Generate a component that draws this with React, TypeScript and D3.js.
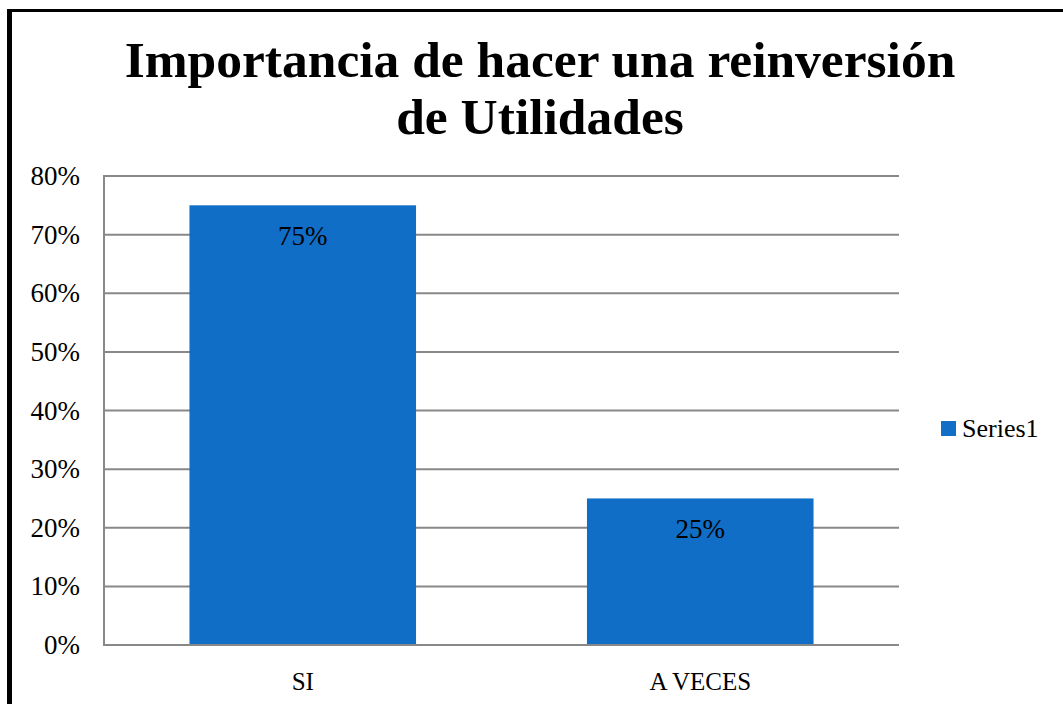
import React from 'react';
import * as d3 from "d3";

// data
const categories = ["SI", "A VECES"];
const values = [0.75, 0.25];
const yTicks = [0, 0.1, 0.2, 0.3, 0.4, 0.5, 0.6, 0.7, 0.8];
const seriesName = "Series1";
const titleLines = ["Importancia de hacer una reinversión", "de Utilidades"];

// constants
const width = 1063;
const height = 704;
const plot = { left: 104, right: 899, top: 176, bottom: 645 };
const barColor = "#106ec6";
const gridColor = "#888888";
const font = "'Liberation Serif', 'Times New Roman', serif";

const App = () => {
  const xScale = d3.scaleBand<string>()
    .domain(categories)
    .range([plot.left, plot.right])
    .paddingInner(0.43)
    .paddingOuter(0.215);
  const yScale = d3.scaleLinear()
    .domain([0, 0.8])
    .range([plot.bottom, plot.top]);
  const fmt = d3.format(".0%");

  return (
    <svg width={width} height={height} style={{ position: "absolute", left: 0, top: 0 }}>
      <rect x={0} y={0} width={width} height={height} fill="#fff" />
      {/* outer frame */}
      <line x1={9.5} y1={9} x2={9.5} y2={height} stroke="#000" strokeWidth={5} />
      <line x1={7} y1={10.5} x2={width} y2={10.5} stroke="#000" strokeWidth={3} />

      {/* title */}
      <g fontFamily={font} fontWeight="bold" fontSize={51.5} textAnchor="middle" fill="#000">
        <text x={540} y={77}>{titleLines[0]}</text>
        <text x={540} y={134}>{titleLines[1]}</text>
      </g>

      {/* gridlines + y labels */}
      {yTicks.map(t => (
        <g key={t}>
          <line x1={plot.left} x2={plot.right} y1={yScale(t)} y2={yScale(t)} stroke={gridColor} strokeWidth={2} />
          <text x={80} y={yScale(t) + 9} textAnchor="end" fontFamily={font} fontSize={27} fill="#000">{fmt(t)}</text>
        </g>
      ))}
      <line x1={plot.left} x2={plot.left} y1={plot.top - 1} y2={plot.bottom + 1} stroke={gridColor} strokeWidth={2} />

      {/* bars */}
      {values.map((v, i) => (
        <rect key={i} x={xScale(categories[i])} y={yScale(v)} width={xScale.bandwidth()}
          height={yScale(0) - yScale(v) - 1} fill={barColor} />
      ))}
      {values.map((v, i) => (
        <text key={"l" + i} x={xScale(categories[i])! + xScale.bandwidth() / 2} y={yScale(v) + 40}
          textAnchor="middle" fontFamily={font} fontSize={27} fill="#000">{fmt(v)}</text>
      ))}
      {/* bottom axis line on top */}
      <line x1={plot.left} x2={plot.right} y1={plot.bottom} y2={plot.bottom} stroke={gridColor} strokeWidth={2} />

      {/* x labels */}
      {categories.map(c => (
        <text key={c} x={xScale(c)! + xScale.bandwidth() / 2} y={690} textAnchor="middle"
          fontFamily={font} fontSize={25} fill="#000">{c}</text>
      ))}

      {/* legend */}
      <rect x={941} y={421} width={15} height={15} fill={barColor} />
      <text x={962} y={437} fontFamily={font} fontSize={26} fill="#000">{seriesName}</text>
    </svg>
  );
};

export default App;
